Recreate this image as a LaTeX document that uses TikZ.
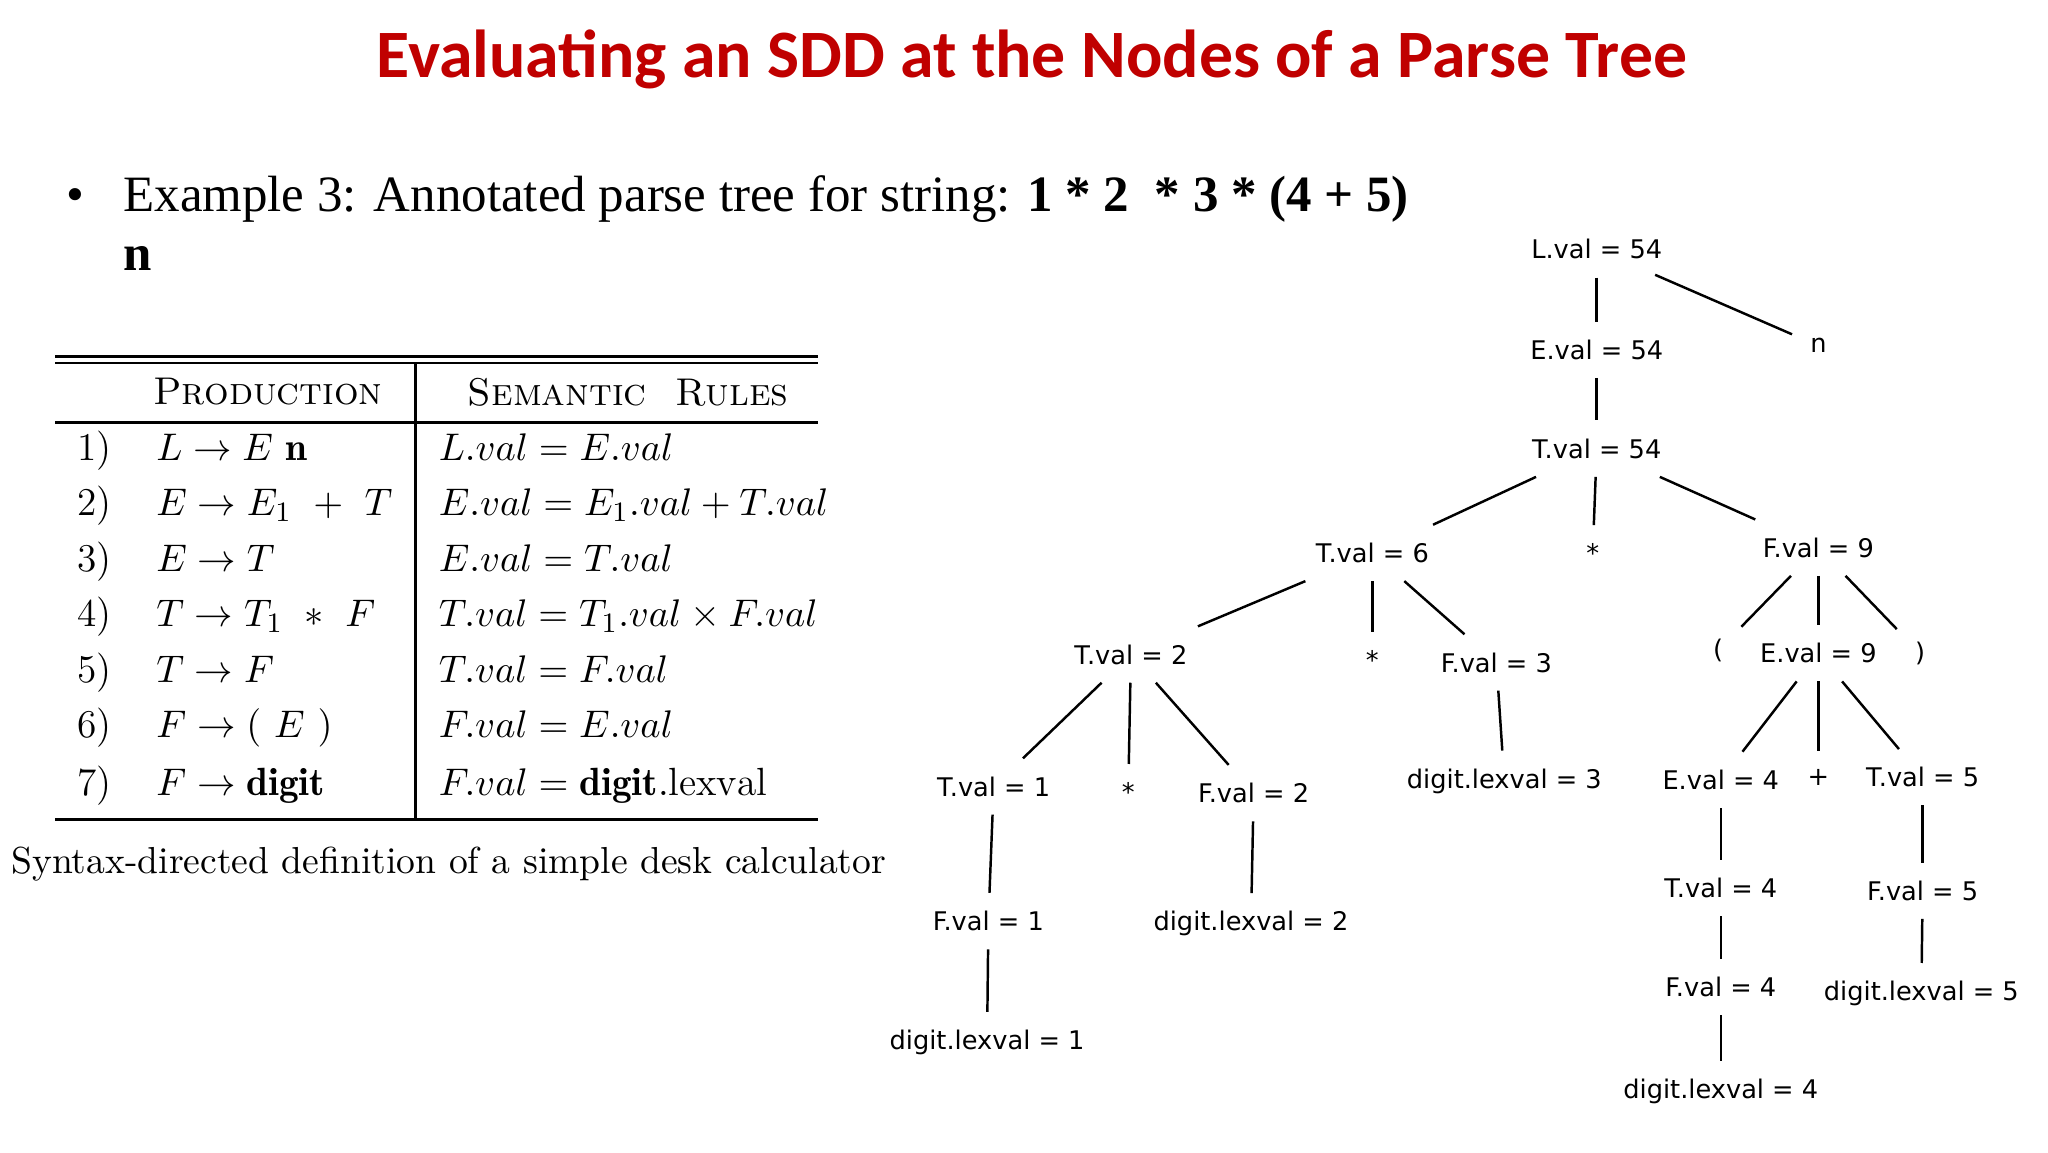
\documentclass[tikz,border=0pt]{standalone}
\usepackage{fontspec}
\usepackage{amsmath}
\newfontfamily\titlefont{Carlito}
\newfontfamily\serifx{Liberation Serif}
\newfontfamily\treefont{DejaVu Sans}
\definecolor{titlered}{RGB}{192,0,0}
\begin{document}
\begin{tikzpicture}[x=0.013196cm,y=-0.013196cm,
  tn/.style={font=\treefont\fontsize{7.3}{8}\selectfont,inner sep=5pt},
  tl/.style={line width=0.7pt},
  rw/.style={font=\fontsize{11.2}{13}\selectfont,anchor=base west,inner sep=0pt},
  hd/.style={font=\fontsize{11}{13}\selectfont\scshape,inner sep=0pt}]
\useasboundingbox (0,0) rectangle (1552,873);
\node[font=\titlefont\bfseries\fontsize{19.3}{22}\selectfont,text=titlered] (title) at (782,45) {Evaluating an SDD at the Nodes of a Parse Tree};
\node[font=\serifx\fontsize{14.5}{17}\selectfont,anchor=base west,inner sep=0pt] (bul) at (50,160) {•};
\node[font=\serifx\fontsize{14.5}{17}\selectfont,anchor=base west,inner sep=0pt] (ex) at (93,160) {Example 3: Annotated parse tree for string: \textbf{1 * 2~~* 3 * (4 + 5)}};
\node[font=\serifx\fontsize{14.5}{17}\selectfont,anchor=base west,inner sep=0pt] (exn) at (93,205) {\textbf{n}};
% table
\draw[line width=0.8pt] (42,270) -- (620,270);
\draw[line width=0.8pt] (42,275) -- (620,275);
\draw[line width=0.8pt] (42,320) -- (620,320);
\draw[line width=0.8pt] (42,621) -- (620,621);
\draw[line width=0.8pt] (315,275) -- (315,621);
\node[hd] (h1) at (203,297) {Production};
\node[hd] (h2) at (476,297) {Semantic\ \ Rules};
\foreach \y/\n/\p/\r in {
 349/1)/{$L\rightarrow E\ \mathbf{n}$}/{$L.val=E.val$},
 391/2)/{$E\rightarrow E_1\ +\ T$}/{$E.val=E_1.val+T.val$},
 433/3)/{$E\rightarrow T$}/{$E.val=T.val$},
 475/4)/{$T\rightarrow T_1\ *\ F$}/{$T.val=T_1.val\times F.val$},
 517/5)/{$T\rightarrow F$}/{$T.val=F.val$},
 559/6)/{$F\rightarrow (\ E\ )$}/{$F.val=E.val$},
 603/7)/{$F\rightarrow\mathbf{digit}$}/{$F.val=\mathbf{digit}.\mathrm{lexval}$}}{
 \node[rw] at (58,\y) {\n};
 \node[rw] at (118,\y) {\p};
 \node[rw] at (332,\y) {\r};
}
\node[font=\fontsize{10.7}{13}\selectfont,anchor=west,inner sep=0pt] (cap) at (8,655) {Syntax-directed definition of a simple desk calculator};
% tree
\node[tn] (L) at (1210,189) {L.val = 54};
\node[tn] (n) at (1378,262) {n};
\node[tn] (E) at (1210,265) {E.val = 54};
\node[tn] (T) at (1210,340) {T.val = 54};
\node[tn] (T6) at (1040,419) {T.val = 6};
\node[tn] (s1) at (1207,419) {*};
\node[tn] (F9) at (1378,415) {F.val = 9};
\node[tn] (T2) at (857,496) {T.val = 2};
\node[tn] (s2) at (1040,500) {*};
\node[tn] (F3) at (1134,502) {F.val = 3};
\node[tn] (lp) at (1302,493) {(};
\node[tn] (E9) at (1378,495) {E.val = 9};
\node[tn] (rp) at (1455,495) {)};
\node[tn] (T1) at (753,596) {T.val = 1};
\node[tn] (s3) at (855,600) {*};
\node[tn] (F2) at (950,601) {F.val = 2};
\node[tn] (d3) at (1140,592) {digit.lexval = 3};
\node[tn] (E4) at (1304,591) {E.val = 4};
\node[tn] (pl) at (1378,589) {+};
\node[tn] (T5) at (1457,589) {T.val = 5};
\node[tn] (F1) at (749,698) {F.val = 1};
\node[tn] (d2) at (948,700) {digit.lexval = 2};
\node[tn] (T4) at (1304,673) {T.val = 4};
\node[tn] (F5) at (1457,675) {F.val = 5};
\node[tn] (F4) at (1304,748) {F.val = 4};
\node[tn] (d5) at (1456,753) {digit.lexval = 5};
\node[tn] (d1) at (748,790) {digit.lexval = 1};
\node[tn] (d4) at (1304,827) {digit.lexval = 4};
\foreach \a/\b in {L/E,E/T,T/s1,T6/s2,F9/E9,T2/s3,F3/d3,E9/pl,T1/F1,F2/d2,E4/T4,T5/F5,T4/F4,F5/d5,F1/d1,F4/d4}
  \draw[tl] (\a) -- (\b);
\draw[tl,shorten <=-2pt] (L) -- (n);
\draw[tl] (T) -- (T6);
\draw[tl] (T) -- (F9);
\draw[tl] (T6) -- (T2);
\draw[tl] (T6) -- (F3);
\draw[tl] (F9) -- (lp);
\draw[tl] (F9) -- (rp);
\draw[tl] (T2) -- (T1);
\draw[tl] (T2) -- (F2);
\draw[tl] (E9) -- (E4);
\draw[tl] (E9) -- (T5);
\end{tikzpicture}
\end{document}
